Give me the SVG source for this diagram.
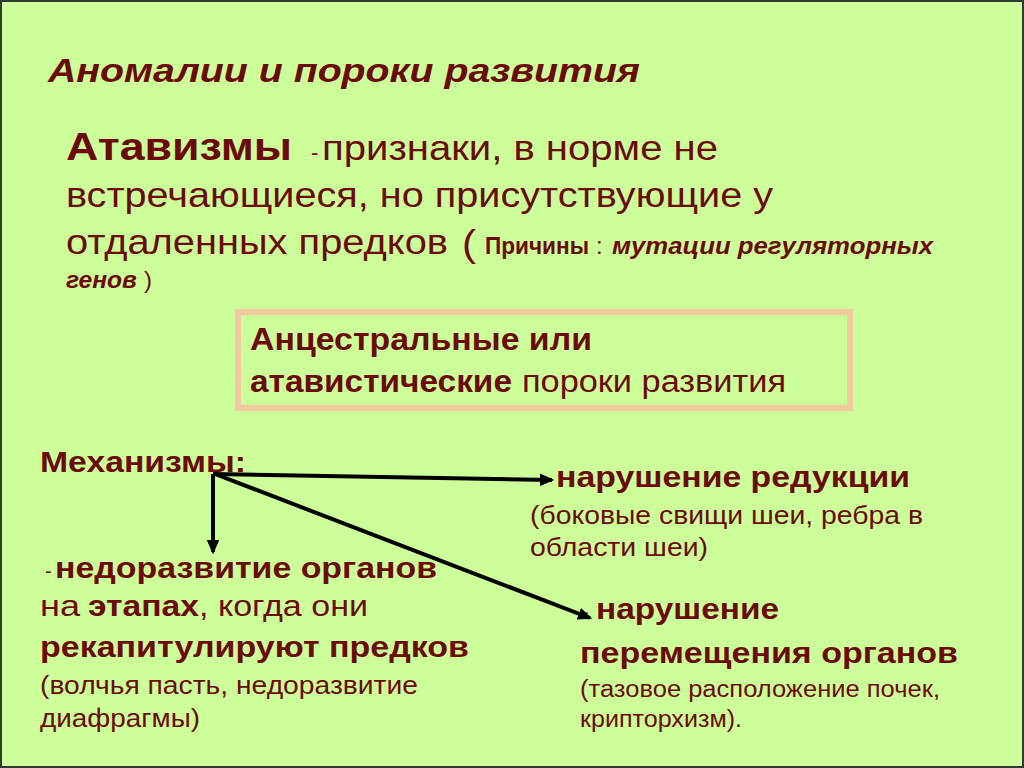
<svg xmlns="http://www.w3.org/2000/svg" width="1024" height="768" viewBox="0 0 1024 768">
<defs>
<style>
text{font-family:"Liberation Sans",Arial,sans-serif;fill:#6B0A0A}
.b{font-weight:bold}
.i{font-style:italic}
.conn line{stroke:#000;stroke-width:4}
</style>
<marker id="ah" markerWidth="4" markerHeight="4" refX="3" refY="1.75" orient="auto" markerUnits="strokeWidth" viewBox="0 0 4 3.5">
<path d="M0,0.2 L3.6,1.75 L0,3.3 Z" fill="#000"/>
</marker>
</defs>
<rect x="0" y="0" width="1024" height="768" fill="#CCFF99"/>
<rect x="1" y="1" width="1022" height="766" fill="none" stroke="#2E3A2E" stroke-width="2"/>

<g id="title">
<text x="48" y="82" class="b i" font-size="34" textLength="592" lengthAdjust="spacingAndGlyphs">Аномалии и пороки развития</text>
</g>

<g id="definition">
<text x="66" y="160" class="b" font-size="38" textLength="226" lengthAdjust="spacingAndGlyphs">Атавизмы</text>
<text x="311" y="160" font-size="22">-</text>
<text x="322" y="160" font-size="35" textLength="396" lengthAdjust="spacingAndGlyphs">признаки, в норме не</text>
<text x="66" y="207" font-size="35" textLength="707" lengthAdjust="spacingAndGlyphs">встречающиеся, но присутствующие у</text>
<text x="66" y="254" font-size="35" textLength="382" lengthAdjust="spacingAndGlyphs">отдаленных предков</text>
<text x="462" y="256" font-size="37" textLength="14" lengthAdjust="spacingAndGlyphs">(</text>
<text x="485" y="254" class="b" font-size="24" textLength="104" lengthAdjust="spacingAndGlyphs">Причины</text>
<text x="596" y="254" font-size="24">:</text>
<text x="612" y="254" class="b i" font-size="24" textLength="321" lengthAdjust="spacingAndGlyphs">мутации регуляторных</text>
<text x="66" y="288" class="b i" font-size="24" textLength="71" lengthAdjust="spacingAndGlyphs">генов</text>
<text x="144" y="288" font-size="24">)</text>
</g>

<g id="box">
<rect x="238" y="312" width="612" height="96" fill="none" stroke="#F5C9A0" stroke-width="6"/>
<text x="250" y="350" class="b" font-size="31" textLength="342" lengthAdjust="spacingAndGlyphs">Анцестральные или</text>
<text x="250" y="392" class="b" font-size="31" textLength="262" lengthAdjust="spacingAndGlyphs">атавистические</text>
<text x="522" y="392" font-size="31" textLength="264" lengthAdjust="spacingAndGlyphs">пороки развития</text>
</g>

<g id="mechanisms">
<text x="40" y="472" class="b" font-size="29" textLength="206" lengthAdjust="spacingAndGlyphs">Механизмы:</text>
</g>

<g id="reduction">
<text x="556" y="487" class="b" font-size="30" textLength="354" lengthAdjust="spacingAndGlyphs">нарушение редукции</text>
<text x="530" y="524" font-size="25" textLength="393" lengthAdjust="spacingAndGlyphs">(боковые свищи шеи, ребра в</text>
<text x="530" y="556" font-size="25" textLength="178" lengthAdjust="spacingAndGlyphs">области шеи)</text>
</g>

<g id="underdevelopment">
<text x="45" y="578" font-size="20">-</text>
<text x="55" y="578" class="b" font-size="29" textLength="382" lengthAdjust="spacingAndGlyphs">недоразвитие органов</text>
<text x="40" y="616" font-size="29" textLength="40" lengthAdjust="spacingAndGlyphs">на</text>
<text x="88" y="616" class="b" font-size="29" textLength="111" lengthAdjust="spacingAndGlyphs">этапах</text>
<text x="199" y="616" font-size="29" textLength="169" lengthAdjust="spacingAndGlyphs">, когда они</text>
<text x="40" y="657" class="b" font-size="29" textLength="429" lengthAdjust="spacingAndGlyphs">рекапитулируют предков</text>
<text x="40" y="694" font-size="25" textLength="378" lengthAdjust="spacingAndGlyphs">(волчья пасть, недоразвитие</text>
<text x="40" y="727" font-size="25" textLength="160" lengthAdjust="spacingAndGlyphs">диафрагмы)</text>
</g>

<g id="displacement">
<text x="582" y="619" font-size="20">-</text>
<text x="596" y="619" class="b" font-size="29" textLength="183" lengthAdjust="spacingAndGlyphs">нарушение</text>
<text x="580" y="663" class="b" font-size="29" textLength="378" lengthAdjust="spacingAndGlyphs">перемещения органов</text>
<text x="580" y="697" font-size="23" textLength="360" lengthAdjust="spacingAndGlyphs">(тазовое расположение почек,</text>
<text x="580" y="727" font-size="23" textLength="162" lengthAdjust="spacingAndGlyphs">крипторхизм).</text>
</g>

<g id="connectors" class="conn">
<line x1="213" y1="474" x2="552" y2="480" marker-end="url(#ah)"/>
<line x1="213" y1="474" x2="213" y2="552" marker-end="url(#ah)"/>
<line x1="215" y1="474" x2="590" y2="618" marker-end="url(#ah)"/>
</g>
</svg>
